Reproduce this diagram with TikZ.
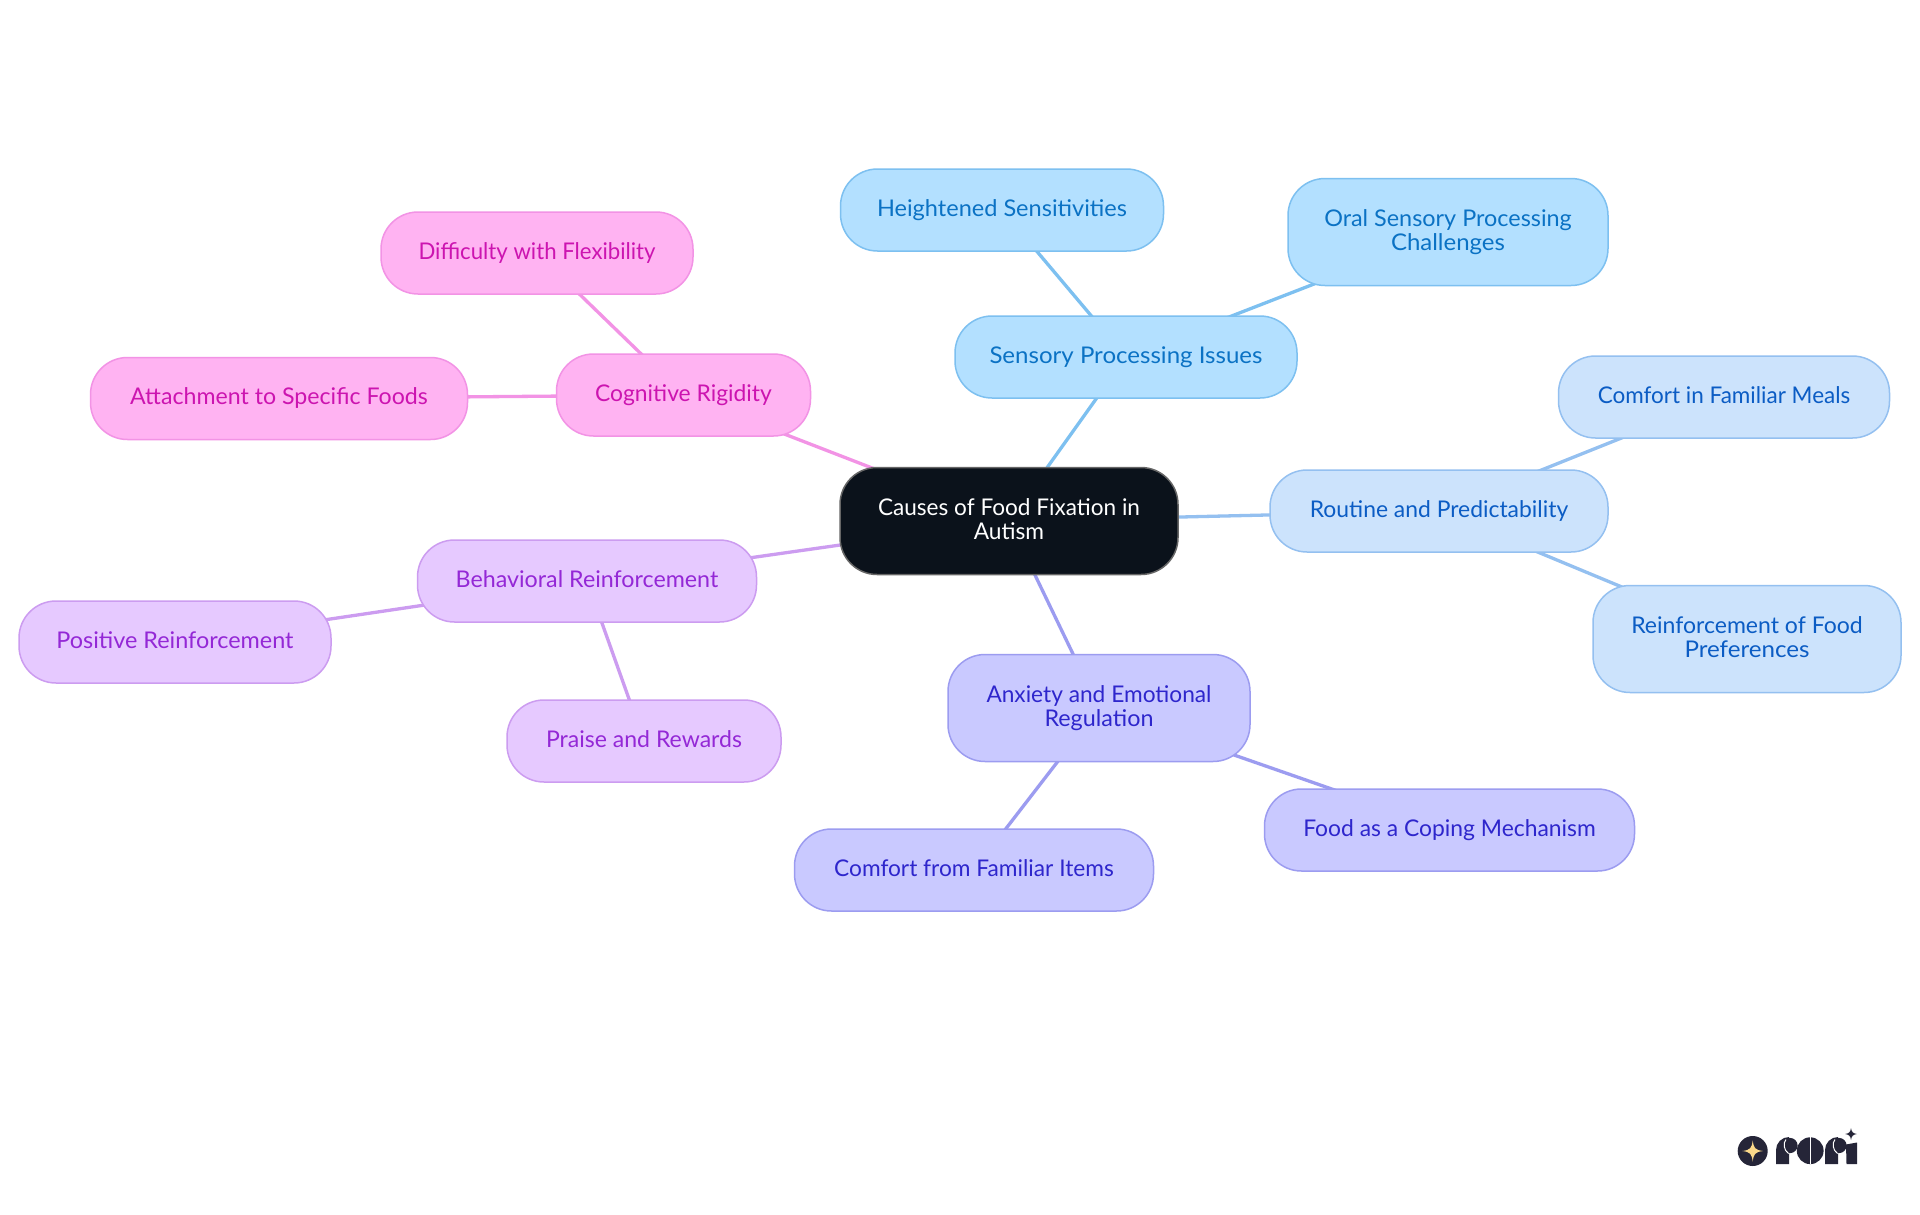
\documentclass[tikz,border=0pt]{standalone}
\usepackage{graphicx}
\usepackage{fontspec}
\setmainfont{Lato}
\usetikzlibrary{backgrounds}
\definecolor{blueF}{HTML}{B3E0FF}\definecolor{blueD}{HTML}{7DC0F0}\definecolor{blueT}{HTML}{0B72C4}
\definecolor{skyF}{HTML}{CCE3FC}\definecolor{skyD}{HTML}{94C0F0}\definecolor{skyT}{HTML}{0B5CC4}
\definecolor{indF}{HTML}{C9C9FF}\definecolor{indD}{HTML}{9C9CF0}\definecolor{indT}{HTML}{2E26CC}
\definecolor{purF}{HTML}{E6C9FF}\definecolor{purD}{HTML}{CC9CF0}\definecolor{purT}{HTML}{9428D6}
\definecolor{pinF}{HTML}{FFB3F2}\definecolor{pinD}{HTML}{F293E5}\definecolor{pinT}{HTML}{CC14B0}
\definecolor{rootF}{HTML}{0B121B}\definecolor{logoC}{HTML}{252538}\definecolor{logoS}{HTML}{FBD98A}
\newcommand\fw[2]{\resizebox{#1pt}{\height}{\rule[-5pt]{0pt}{22.5pt}#2}}
\tikzset{
  mm/.style={rectangle,rounded corners=37,inner sep=0pt,outer sep=0pt,align=center,line width=1.5,
    font=\fontsize{23}{24.5}\selectfont},
  bluebox/.style={mm,fill=blueF,draw=blueD,text=blueT},
  skybox/.style={mm,fill=skyF,draw=skyD,text=skyT},
  indbox/.style={mm,fill=indF,draw=indD,text=indT},
  purbox/.style={mm,fill=purF,draw=purD,text=purT},
  pinbox/.style={mm,fill=pinF,draw=pinD,text=pinT},
  rootbox/.style={mm,fill=rootF,draw=black!60,text=white},
  bluel/.style={draw=blueD,line width=3.3},
  skyl/.style={draw=skyD,line width=3.3},
  indl/.style={draw=indD,line width=3.3},
  purl/.style={draw=purD,line width=3.3},
  pinl/.style={draw=pinD,line width=3.3},
}
\begin{document}
\begin{tikzpicture}[x=1pt,y=-1pt]
\useasboundingbox (0,0) rectangle (1920,1215);
\node[rootbox,minimum width=338,minimum height=107] (root) at (1009,521) {\fw{262}{Causes of Food Fixation in}\\\fw{70.3}{Autism}};
\node[bluebox,minimum width=342,minimum height=82] (sens) at (1126,357) {\fw{273}{Sensory Processing Issues}};
\node[bluebox,minimum width=323,minimum height=82] (heigh) at (1002,210) {\fw{250}{Heightened Sensitivities}};
\node[bluebox,minimum width=320,minimum height=107] (oral) at (1448,232) {\fw{247.5}{Oral Sensory Processing}\\\fw{114}{Challenges}};
\node[skybox,minimum width=338,minimum height=82] (rout) at (1439,511) {\fw{258.4}{Routine and Predictability}};
\node[skybox,minimum width=331,minimum height=82] (cfm) at (1724,397) {\fw{252.5}{Comfort in Familiar Meals}};
\node[skybox,minimum width=308,minimum height=107] (reinf) at (1747,639) {\fw{231.5}{Reinforcement of Food}\\\fw{125}{Preferences}};
\node[indbox,minimum width=302,minimum height=107] (anx) at (1099,708) {\fw{225}{Anxiety and Emotional}\\\fw{109}{Regulation}};
\node[indbox,minimum width=370,minimum height=82] (food) at (1449.5,830) {\fw{292.5}{Food as a Coping Mechanism}};
\node[indbox,minimum width=359,minimum height=82] (cfi) at (974,870) {\fw{279.7}{Comfort from Familiar Items}};
\node[purbox,minimum width=339,minimum height=82] (beh) at (587,581) {\fw{262.6}{Behavioral Reinforcement}};
\node[purbox,minimum width=312,minimum height=82] (pos) at (175,642) {\fw{237}{Positive Reinforcement}};
\node[purbox,minimum width=274,minimum height=82] (pra) at (644,741) {\fw{196}{Praise and Rewards}};
\node[pinbox,minimum width=254,minimum height=82] (cog) at (683.5,395) {\fw{176.8}{Cognitive Rigidity}};
\node[pinbox,minimum width=312,minimum height=82] (dif) at (537,253) {\fw{237}{Difficulty with Flexibility}};
\node[pinbox,minimum width=377,minimum height=82] (att) at (279,398.5) {\fw{297.5}{Attachment to Specific Foods}};
\begin{pgfonlayer}{background}
\fill[white] (0,0) rectangle (1920,1215);
\draw[bluel] (root.center) -- (sens.center);
\draw[bluel] (sens.center) -- (heigh.center);
\draw[bluel] (sens.center) -- (oral.center);
\draw[skyl] (root.center) -- (rout.center);
\draw[skyl] (rout.center) -- (cfm.center);
\draw[skyl] (rout.center) -- (reinf.center);
\draw[indl] (root.center) -- (anx.center);
\draw[indl] (anx.center) -- (food.center);
\draw[indl] (anx.center) -- (cfi.center);
\draw[purl] (root.center) -- (beh.center);
\draw[purl] (beh.center) -- (pos.center);
\draw[purl] (beh.center) -- (pra.center);
\draw[pinl] (root.center) -- (cog.center);
\draw[pinl] (cog.center) -- (dif.center);
\draw[pinl] (cog.center) -- (att.center);
\end{pgfonlayer}
% logo
\fill[logoC] (1752.7,1151) circle (15);
\fill[logoS] (1752.7,1140.5) .. controls (1753.7,1148) and (1755,1150) .. (1763,1151) .. controls (1755,1152) and (1753.7,1154) .. (1752.7,1161.5) .. controls (1751.7,1154) and (1750.4,1152) .. (1742.4,1151) .. controls (1750.4,1150) and (1751.7,1148) .. (1752.7,1140.5) -- cycle;
% r
\fill[logoC] (1776,1164) -- (1776,1150) .. controls (1776,1142.8) and (1781.8,1137) .. (1789,1137) -- (1789,1164) -- cycle;
\fill[logoC] (1790,1145.5) circle (7.6);
\draw[white,line width=1] (1786,1139.5) .. controls (1783,1143) and (1783.5,1150) .. (1788.5,1153.5);
% o
\fill[logoC] (1810.2,1150.7) circle (13.4);
\draw[white,line width=1.2] (1810.2,1137) -- (1810.2,1164.4);
% r
\fill[logoC] (1825,1164) -- (1825,1150) .. controls (1825,1142.8) and (1830.8,1137) .. (1838,1137) -- (1838,1164) -- cycle;
\fill[logoC] (1839,1145.5) circle (7.6);
\draw[white,line width=1] (1835,1139.5) .. controls (1832,1143) and (1832.5,1150) .. (1837.5,1153.5);
% i
\fill[logoC] (1846,1144.5) -- (1857,1142.5) -- (1857,1164) -- (1846.5,1164) -- cycle;
\fill[logoC] (1851,1128) .. controls (1851.5,1132) and (1853,1133.5) .. (1857,1134) .. controls (1853,1134.5) and (1851.5,1136) .. (1851,1140) .. controls (1850.5,1136) and (1849,1134.5) .. (1845,1134) .. controls (1849,1133.5) and (1850.5,1132) .. (1851,1128) -- cycle;
\end{tikzpicture}
\end{document}
